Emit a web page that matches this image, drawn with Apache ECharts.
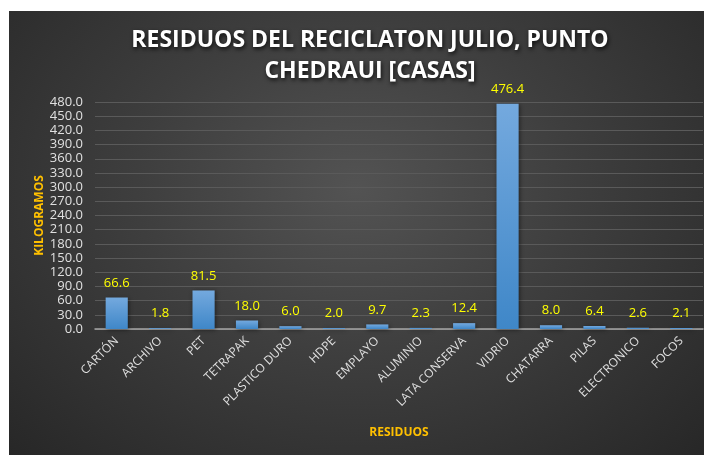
<!DOCTYPE html>
<html>
<head>
    <meta http-equiv="Content-Type" content="text/html; charset=utf-8"/>
    <title>ECharts</title>
    <script src="https://cdn.jsdelivr.net/npm/echarts@6/dist/echarts.min.js"></script>
    <style>
        body { margin: 0; background: #fff; }
        #main {
            position: absolute; left: 9px; top: 11px; width: 695px; height: 444px;
            background: radial-gradient(ellipse at 50% 40%, #535353 0%, #3e3e3e 45%, #272727 100%);
        }
    </style>
</head>
<body>
<div id="main"></div>
<script type="text/javascript">
    // datos
    var categorias = ['CARTÓN', 'ARCHIVO', 'PET', 'TETRAPAK', 'PLASTICO DURO', 'HDPE', 'EMPLAYO',
        'ALUMINIO', 'LATA CONSERVA', 'VIDRIO', 'CHATARRA', 'PILAS', 'ELECTRONICO', 'FOCOS'];
    var kilogramos = [66.6, 1.8, 81.5, 18.0, 6.0, 2.0, 9.7, 2.3, 12.4, 476.4, 8.0, 6.4, 2.6, 2.1];
    var titulo = 'RESIDUOS DEL RECICLATON JULIO, PUNTO\nCHEDRAUI [CASAS]';

    var myChart = echarts.init(document.getElementById('main'));
    myChart.setOption({
        title: {
            text: titulo,
            left: 356,
            top: 9,
            textAlign: 'center',
            textStyle: {
                color: '#ffffff',
                fontFamily: 'Open Sans',
                fontWeight: 'bold',
                fontSize: 23,
                lineHeight: 31,
                textShadowColor: 'rgba(0,0,0,0.8)',
                textShadowBlur: 4,
                textShadowOffsetX: 1,
                textShadowOffsetY: 2
            }
        },
        grid: {
            left: 86,
            right: 1,
            top: 91,
            height: 227
        },
        xAxis: {
            type: 'category',
            data: categorias,
            name: 'RESIDUOS',
            nameLocation: 'middle',
            nameGap: 98,
            nameTextStyle: {color: '#ffc000', fontWeight: 'bold', fontSize: 12, fontFamily: 'Open Sans'},
            axisLine: {lineStyle: {color: '#a6a6a6', width: 1.5}},
            axisTick: {show: false},
            axisLabel: {
                rotate: 45,
                interval: 0,
                color: '#e0e0e0',
                fontSize: 12,
                fontFamily: 'Open Sans',
                margin: 10
            }
        },
        yAxis: {
            type: 'value',
            min: 0,
            max: 480,
            interval: 30,
            name: 'KILOGRAMOS',
            nameLocation: 'middle',
            nameRotate: 90,
            nameGap: 49,
            nameMoveOverlap: false,
            nameTextStyle: {color: '#ffc000', fontWeight: 'bold', fontSize: 12, fontFamily: 'Open Sans'},
            axisLine: {show: false},
            axisTick: {show: false},
            axisLabel: {
                color: '#e0e0e0',
                fontSize: 13,
                fontFamily: 'Open Sans',
                margin: 12,
                formatter: function (v) { return v.toFixed(1); }
            },
            splitLine: {lineStyle: {color: '#5a5a5a', width: 1}}
        },
        series: [{
            name: 'KILOGRAMOS',
            type: 'bar',
            data: kilogramos,
            barWidth: '51%',
            itemStyle: {
                color: new echarts.graphic.LinearGradient(0, 0, 0, 1, [
                    {offset: 0, color: '#74a9de'},
                    {offset: 1, color: '#3f87c8'}
                ]),
                shadowColor: 'rgba(0,0,0,0.45)',
                shadowBlur: 4,
                shadowOffsetX: 1,
                shadowOffsetY: 1
            },
            label: {
                show: true,
                position: 'top',
                distance: 8,
                color: '#ffff00',
                fontSize: 13,
                fontFamily: 'Open Sans',
                formatter: function (p) { return p.value.toFixed(1); }
            }
        }]
    });
</script>
</body>
</html>
